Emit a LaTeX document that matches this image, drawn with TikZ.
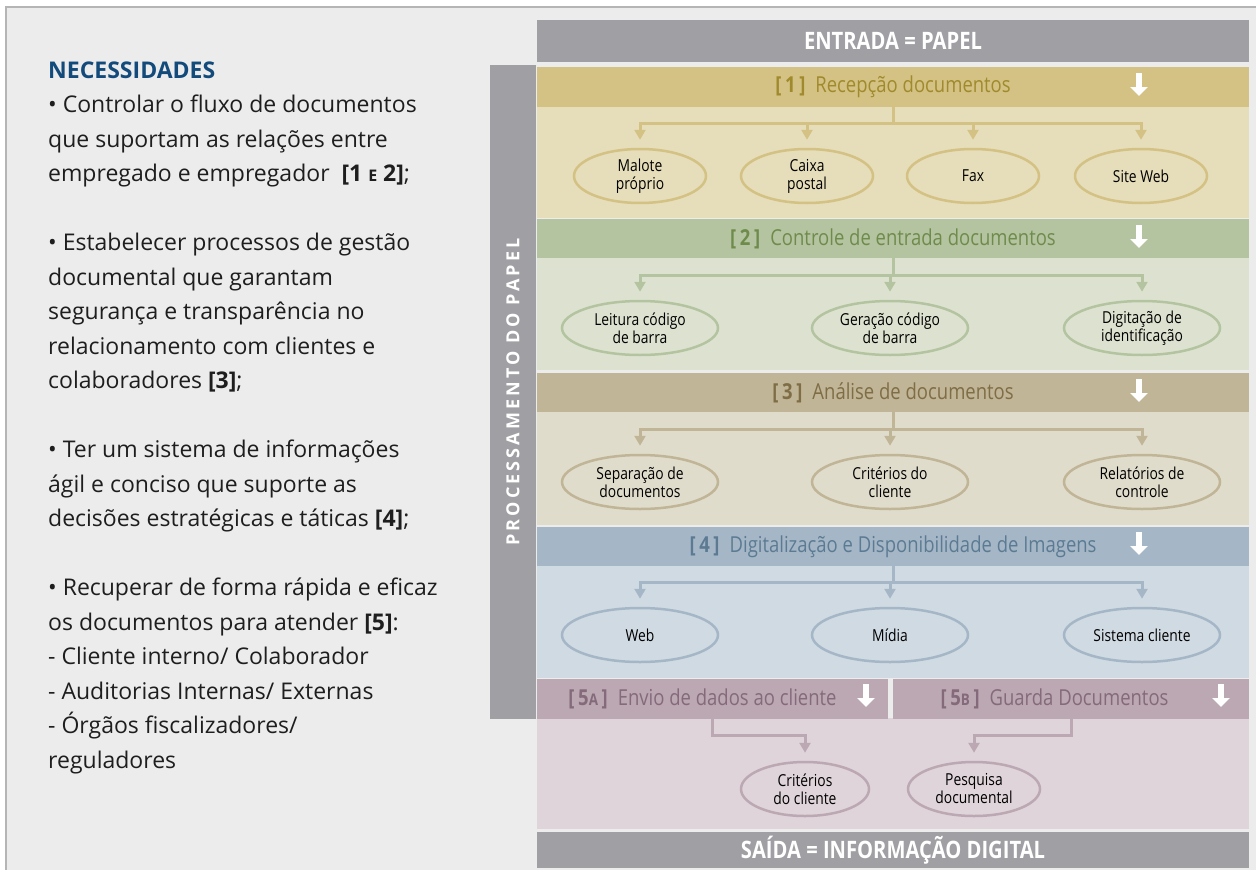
\documentclass[tikz,border=0pt]{standalone}
\usepackage{fontspec}
\setmainfont{Open Sans}
\newfontfamily\condfont[FakeStretch=0.84]{Open Sans}
\usetikzlibrary{shapes,arrows.meta,positioning}

\definecolor{barGray}{HTML}{A09FA4}
\definecolor{panelGray}{HTML}{ECECEC}
\definecolor{frameGray}{HTML}{B5B5B5}
\definecolor{needBlue}{HTML}{134A7C}
\definecolor{bodyBlack}{HTML}{1E1E1E}
\definecolor{headA}{HTML}{D3C283}\definecolor{bodyA}{HTML}{E6DDBA}\definecolor{textA}{HTML}{A08A2D}
\definecolor{headB}{HTML}{B5C4A0}\definecolor{bodyB}{HTML}{DCE2CF}\definecolor{textB}{HTML}{6E8B4C}
\definecolor{headC}{HTML}{C0B597}\definecolor{bodyC}{HTML}{E0DCCB}\definecolor{textC}{HTML}{7F6D45}
\definecolor{headD}{HTML}{A5B7C6}\definecolor{bodyD}{HTML}{D0DAE2}\definecolor{textD}{HTML}{5C7B93}
\definecolor{headE}{HTML}{BCA8B3}\definecolor{bodyE}{HTML}{DFD4D9}\definecolor{textE}{HTML}{846A7A}

\newcommand{\minicap}[2]{{\fontsize{#1}{#1}\selectfont #2}}

\begin{document}
\begin{tikzpicture}[x=1pt,y=-1pt]
			\tikzstyle{Bar}		= [fill=barGray, text=white, inner sep=0pt, font=\condfont\bfseries\fontsize{24}{26}\selectfont]
			\tikzstyle{Head}	= [inner sep=0pt, minimum height=40, font=\condfont\fontsize{22}{24}\selectfont]
			\tikzstyle{Leaf}	= [ellipse, line width=2.5pt, inner sep=0pt, minimum height=54, align=center, text=black, font=\condfont\fontsize{16.5}{18}\selectfont]
			\tikzstyle{Link}	= [line width=3pt, -{Triangle[width=11pt,length=10pt]}, shorten >=8pt]
			\tikzstyle{Down}	= [white, line width=6pt, -{Triangle[width=17pt,length=9pt]}]
			\tikzstyle{Needs}	= [anchor=base west, align=left, inner sep=0pt, text=bodyBlack, font=\fontsize{23}{34.5}\selectfont]
			\tikzstyle{SA}		= [fill=headA, text=textA]
			\tikzstyle{SB}		= [fill=headB, text=textB]
			\tikzstyle{SC}		= [fill=headC, text=textC]
			\tikzstyle{SD}		= [fill=headD, text=textD]
			\tikzstyle{SE}		= [fill=headE, text=textE]

			\useasboundingbox (0,0) rectangle (1256,870);
			\fill [white] (0,0) rectangle (1256,870);
			\fill [panelGray] (6,7) rectangle (1256,870);
			\draw [frameGray, line width=2pt] (6,870) -- (6,7) -- (1256,7);

			% left column (anchored on the baseline of its last line)
			\node (needs) at (48,768) [Needs] {%
				{\color{needBlue}\bfseries NECESSIDADES}\\
				• Controlar o fluxo de documentos\\
				que suportam as relações entre\\
				empregado e empregador\ \ {\bfseries[1 \minicap{16}{E} 2]};\\[34.5pt]
				• Estabelecer processos de gestão\\
				documental que garantam\\
				segurança e transparência no\\
				relacionamento com clientes e\\
				colaboradores {\bfseries[3]};\\[34.5pt]
				• Ter um sistema de informações\\
				ágil e conciso que suporte as\\
				decisões estratégicas e táticas {\bfseries[4]};\\[34.5pt]
				• Recuperar de forma rápida e eficaz\\
				os documentos para atender {\bfseries[5]}:\\
				- Cliente interno/ Colaborador\\
				- Auditorias Internas/ Externas\\
				- Órgãos fiscalizadores/\\
				reguladores};

			% section bodies
			\fill [bodyA] (537,107) rectangle (1249,218);
			\fill [bodyB] (537,258) rectangle (1249,370);
			\fill [bodyC] (537,412) rectangle (1249,525);
			\fill [bodyD] (537,566) rectangle (1249,678);
			\fill [bodyE] (537,718) rectangle (1249,829);

			% bars
			\node (in) at (893,41) [Bar][minimum width=712, minimum height=42] {ENTRADA = PAPEL};
			\node (out) at (893,850) [Bar][minimum width=712, minimum height=36] {SAÍDA = INFORMAÇÃO DIGITAL};
			\node (proc) at (513,392) [Bar][rotate=90, minimum width=654, minimum height=46, font=\bfseries\fontsize{18}{20}\selectfont\addfontfeature{LetterSpace=17}] {PROCESSAMENTO DO PAPEL};

			% headers
			\node (h1) at (893,87) [Head][SA][minimum width=712] {{\bfseries[\,1\,]}\hspace{10pt}Recepção documentos};
			\node (h2) at (893,238.5) [Head][SB][minimum width=712, minimum height=39] {{\bfseries[\,2\,]}\hspace{10pt}Controle de entrada documentos};
			\node (h3) at (893,392.5) [Head][SC][minimum width=712, minimum height=39] {{\bfseries[\,3\,]}\hspace{10pt}Análise de documentos};
			\node (h4) at (893,546.5) [Head][SD][minimum width=712, minimum height=39] {{\bfseries[\,4\,]}\hspace{10pt}Digitalização e Disponibilidade de Imagens};
			\node (h5a) at (712.5,698.5) [Head][SE][minimum width=351] {{\bfseries[\,5\minicap{16}{A}\,]}\hspace{10pt}Envio de dados ao cliente\hspace*{20pt}};
			\node (h5b) at (1071,698.5) [Head][SE][minimum width=356] {{\bfseries[\,5\minicap{16}{B}\,]}\hspace{10pt}Guarda Documentos\hspace*{33pt}};

			\draw [Down] (1139,73) -- (1139,96);
			\draw [Down] (1139,225) -- (1139,248);
			\draw [Down] (1139,379) -- (1139,402);
			\draw [Down] (1139,532) -- (1139,555);
			\draw [Down] (866,684) -- (866,707);
			\draw [Down] (1221,684) -- (1221,707);

			% leaves
			\node (e11) at (640,176) [Leaf][draw=headA][minimum width=132] {Malote\\próprio};
			\node (e12) at (807,176) [Leaf][draw=headA][minimum width=132] {Caixa\\postal};
			\node (e13) at (973,176) [Leaf][draw=headA][minimum width=132] {Fax};
			\node (e14) at (1141,176) [Leaf][draw=headA][minimum width=132] {Site Web};

			\node (e21) at (640,328) [Leaf][draw=headB][minimum width=156] {Leitura código\\de barra};
			\node (e22) at (890,328) [Leaf][draw=headB][minimum width=156] {Geração código\\de barra};
			\node (e23) at (1142,328) [Leaf][draw=headB][minimum width=156] {Digitação de\\identificação};

			\node (e31) at (640,482) [Leaf][draw=headC][minimum width=156] {Separação de\\documentos};
			\node (e32) at (890,482) [Leaf][draw=headC][minimum width=156] {Critérios do\\cliente};
			\node (e33) at (1142,482) [Leaf][draw=headC][minimum width=156] {Relatórios de\\controle};

			\node (e41) at (640,635) [Leaf][draw=headD][minimum width=156] {Web};
			\node (e42) at (890,635) [Leaf][draw=headD][minimum width=156] {Mídia};
			\node (e43) at (1142,635) [Leaf][draw=headD][minimum width=156] {Sistema cliente};

			\node (e51) at (805,789) [Leaf][draw=headE][minimum width=128] {Critérios\\do cliente};
			\node (e52) at (974,789) [Leaf][draw=headE][minimum width=132] {Pesquisa\\documental};

			% links
			\foreach \e in {e11,e12,e13,e14}
				\draw [Link] (h1.south) -- ++(0,16) -| (\e.north) [headA];
			\foreach \e in {e21,e22,e23}
				\draw [Link] (h2.south) -- ++(0,17) -| (\e.north) [headB];
			\foreach \e in {e31,e32,e33}
				\draw [Link] (h3.south) -- ++(0,17) -| (\e.north) [headC];
			\foreach \e in {e41,e42,e43}
				\draw [Link] (h4.south) -- ++(0,16) -| (\e.north) [headD];
			\draw [Link] (h5a.south) -- ++(0,17) -| (e51.north) [headE];
			\draw [Link] (h5b.south) -- ++(0,17) -| (e52.north) [headE];
\end{tikzpicture}
\end{document}
